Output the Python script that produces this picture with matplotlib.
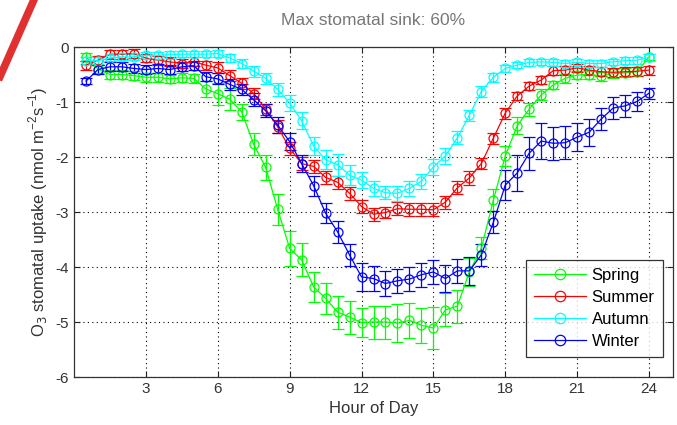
import matplotlib
matplotlib.use('Agg')
import matplotlib.pyplot as plt
from matplotlib.lines import Line2D
import numpy as np

plt.rcParams['font.family'] = ['Liberation Sans', 'DejaVu Sans']
plt.rcParams['axes.unicode_minus'] = False

# half-hourly values, 0.5 .. 24
hours = np.arange(0.5, 24.01, 0.5)

spring = [-0.18, -0.40, -0.50, -0.50, -0.52, -0.55, -0.55, -0.58, -0.56, -0.57,
          -0.76, -0.85, -0.95, -1.18, -1.77, -2.19, -2.95, -3.66, -3.87, -4.36,
          -4.57, -4.82, -4.91, -5.01, -5.00, -5.00, -5.02, -4.97, -5.06, -5.11,
          -4.78, -4.71, -4.09, -3.66, -2.79, -1.98, -1.43, -1.13, -0.87, -0.69,
          -0.57, -0.51, -0.50, -0.53, -0.48, -0.47, -0.45, -0.18]
spring_err = [0.08, 0.08, 0.08, 0.08, 0.08, 0.08, 0.08, 0.08, 0.08, 0.08,
              0.15, 0.20, 0.20, 0.15, 0.20, 0.22, 0.28, 0.32, 0.30, 0.27,
              0.28, 0.30, 0.30, 0.26, 0.30, 0.30, 0.35, 0.32, 0.32, 0.38,
              0.30, 0.30, 0.25, 0.20, 0.20, 0.18, 0.15, 0.12, 0.10, 0.08,
              0.08, 0.08, 0.08, 0.08, 0.08, 0.08, 0.08, 0.06]

summer = [-0.33, -0.24, -0.13, -0.13, -0.12, -0.20, -0.24, -0.27, -0.30, -0.27,
          -0.33, -0.38, -0.52, -0.66, -0.85, -1.13, -1.45, -1.84, -2.12, -2.17,
          -2.37, -2.46, -2.66, -2.90, -3.04, -3.01, -2.94, -2.95, -2.95, -2.96,
          -2.82, -2.56, -2.38, -2.12, -1.66, -1.20, -0.89, -0.71, -0.60, -0.43,
          -0.42, -0.38, -0.42, -0.45, -0.46, -0.45, -0.44, -0.42]
summer_err = [0.08, 0.08, 0.08, 0.08, 0.08, 0.08, 0.08, 0.08, 0.08, 0.08,
              0.08, 0.10, 0.10, 0.10, 0.10, 0.10, 0.12, 0.12, 0.12, 0.12,
              0.12, 0.12, 0.12, 0.12, 0.12, 0.10, 0.12, 0.12, 0.12, 0.12,
              0.12, 0.12, 0.12, 0.10, 0.10, 0.10, 0.08, 0.08, 0.08, 0.08,
              0.08, 0.08, 0.08, 0.08, 0.08, 0.08, 0.08, 0.08]

autumn = [-0.25, -0.25, -0.20, -0.18, -0.18, -0.15, -0.15, -0.14, -0.13, -0.13,
          -0.13, -0.12, -0.20, -0.30, -0.44, -0.57, -0.77, -1.02, -1.34, -1.80,
          -2.05, -2.14, -2.33, -2.42, -2.57, -2.65, -2.66, -2.57, -2.44, -2.18,
          -1.98, -1.65, -1.24, -0.81, -0.55, -0.39, -0.33, -0.28, -0.27, -0.28,
          -0.30, -0.28, -0.30, -0.30, -0.27, -0.25, -0.24, -0.19]
autumn_err = [0.06, 0.06, 0.06, 0.06, 0.06, 0.06, 0.06, 0.06, 0.06, 0.06,
              0.06, 0.06, 0.08, 0.08, 0.10, 0.10, 0.12, 0.14, 0.15, 0.17,
              0.17, 0.20, 0.18, 0.15, 0.14, 0.12, 0.14, 0.14, 0.14, 0.15,
              0.14, 0.12, 0.10, 0.10, 0.08, 0.06, 0.06, 0.06, 0.06, 0.06,
              0.06, 0.06, 0.06, 0.06, 0.06, 0.06, 0.06, 0.06]

winter = [-0.62, -0.41, -0.36, -0.36, -0.39, -0.41, -0.39, -0.41, -0.36, -0.34,
          -0.54, -0.58, -0.68, -0.77, -0.96, -1.16, -1.42, -1.72, -2.12, -2.52,
          -3.02, -3.36, -3.78, -4.18, -4.21, -4.30, -4.25, -4.22, -4.14, -4.09,
          -4.21, -4.07, -4.07, -3.78, -3.19, -2.51, -2.29, -1.93, -1.71, -1.75,
          -1.74, -1.64, -1.55, -1.31, -1.11, -1.07, -0.99, -0.84]
winter_err = [0.06, 0.08, 0.08, 0.08, 0.08, 0.08, 0.08, 0.08, 0.08, 0.08,
              0.08, 0.10, 0.10, 0.10, 0.12, 0.12, 0.14, 0.15, 0.15, 0.18,
              0.18, 0.20, 0.20, 0.25, 0.22, 0.22, 0.22, 0.22, 0.22, 0.22,
              0.25, 0.22, 0.25, 0.20, 0.20, 0.28, 0.33, 0.30, 0.33, 0.30,
              0.30, 0.25, 0.25, 0.20, 0.20, 0.20, 0.17, 0.10]

series = [('Spring', spring, spring_err, '#00ff00'),
          ('Summer', summer, summer_err, '#ff0000'),
          ('Autumn', autumn, autumn_err, '#00ffff'),
          ('Winter', winter, winter_err, '#0000ff')]

fig = plt.figure(figsize=(6.77, 4.25), dpi=100)
ax = fig.add_axes([0.1093, 0.1129, 0.8848, 0.7765])

handles = []
for name, vals, err, col in series:
    ax.errorbar(hours, vals, yerr=err, color=col, marker='o', markersize=6.5,
                markerfacecolor='none', markeredgewidth=0.9, linewidth=0.9,
                elinewidth=0.9, capsize=4.5, capthick=0.9)
    handles.append(Line2D([], [], color=col, marker='o', markersize=7.5,
                          markerfacecolor='none', markeredgewidth=0.9,
                          linewidth=0.9, label=name))

ax.set_xlim(0, 25)
ax.set_ylim(-6, 0)
ax.set_xticks([3, 6, 9, 12, 15, 18, 21, 24])
ax.set_yticks([-6, -5, -4, -3, -2, -1, 0])
ax.tick_params(direction='in', length=4, width=0.8, top=True, right=True,
               labelsize=11, colors='#222222', labelcolor='#333333')
ax.grid(True, linestyle=(0, (1, 3)), color='black', linewidth=0.8)
for sp in ax.spines.values():
    sp.set_linewidth(0.9)
    sp.set_color('#333333')

ax.set_xlabel('Hour of Day', fontsize=12, color='#333333')
ax.set_ylabel('O$_3$ stomatal uptake (nmol m$^{\\mathregular{-2}}$s$^{\\mathregular{-1}}$)',
              fontsize=12, color='#333333')
ax.set_title('Max stomatal sink: 60%', fontsize=12.5, color='#777777', pad=16)

leg = ax.legend(handles=handles, loc='lower right', bbox_to_anchor=(0.983, 0.06),
                borderaxespad=0, fontsize=12, frameon=True, fancybox=False,
                edgecolor='black', handlelength=3.1, handletextpad=0.35,
                borderpad=0.5, labelspacing=0.42)
leg.get_frame().set_linewidth(0.9)

# red diagonal stroke at the top-left corner
fig.lines.append(Line2D([0.0, 0.05], [0.82, 1.0], transform=fig.transFigure,
                        color='#e03030', linewidth=5.5))

fig.savefig('out.png', dpi=100)
